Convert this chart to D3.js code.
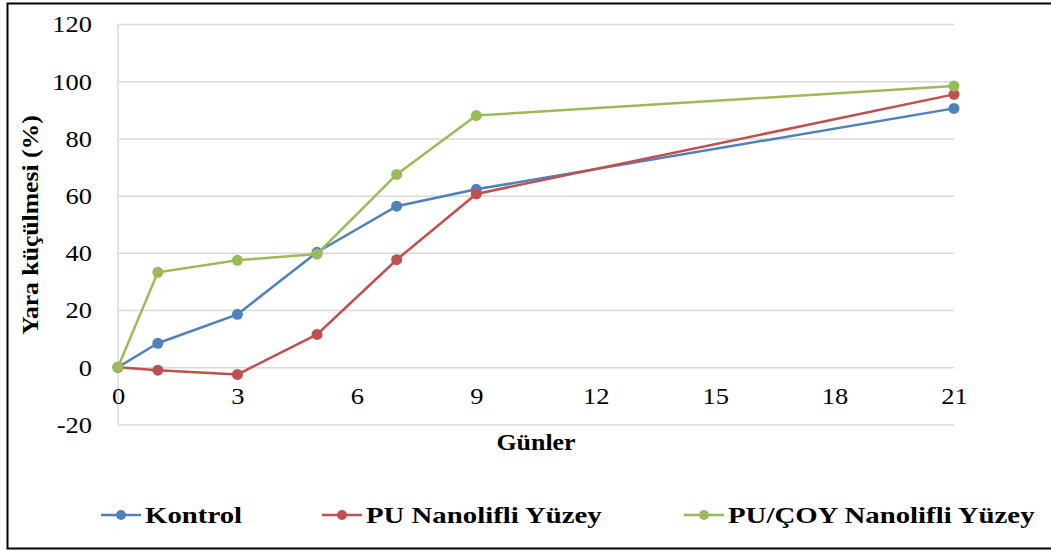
<!DOCTYPE html>
<html>
<head>
<meta charset="utf-8">
<script src="https://cdn.jsdelivr.net/npm/d3@7"></script>
<style>
  html, body { margin: 0; padding: 0; background: #fff; }
  svg { display: block; }
  text { font-family: "Liberation Serif", "Times New Roman", serif; fill: #000; }
</style>
</head>
<body>
<svg id="chart" width="1051" height="551"></svg>
<script>
// Days of observation
const days = [0, 1, 3, 5, 7, 9, 21];

// Wound reduction (%) per group
const kontrol = [0, 8.4, 18.5, 40.2, 56.3, 62.2, 90.5];
const puNanolifli = [0, -1.0, -2.5, 11.5, 37.6, 60.6, 95.4];
const puCoyNanolifli = [0, 33.2, 37.4, 39.6, 67.4, 88.0, 98.3];

const seriesNames = ["Kontrol", "PU Nanolifli Yüzey", "PU/ÇOY Nanolifli Yüzey"];
const seriesColors = ["#4f81bd", "#c0504d", "#9bbb59"];

const xTicks = [0, 3, 6, 9, 12, 15, 18, 21];
const yTicks = [-20, 0, 20, 40, 60, 80, 100, 120];

const xTitle = "Günler";
const yTitle = "Yara küçülmesi (%)";

const series = [kontrol, puNanolifli, puCoyNanolifli].map((vals, i) => ({
  name: seriesNames[i],
  color: seriesColors[i],
  points: days.map((d, j) => ({ day: d, value: vals[j] }))
}));

const svg = d3.select("#chart");
const W = 1051;
const plot = { left: 118, right: 954, top: 24, bottom: 424.5 };
const stretch = 1.15;
const plainNumber = d => String(d);

// outer frame
svg.append("rect")
  .attr("x", 7.5).attr("y", 3.5)
  .attr("width", W + 10).attr("height", 545)
  .attr("fill", "none").attr("stroke", "#000").attr("stroke-width", 2);

const x = d3.scaleLinear().domain([0, 21]).range([plot.left, plot.right]);
const y = d3.scaleLinear().domain([-20, 120]).range([plot.bottom, plot.top]);

// horizontal gridlines + y labels
const yAxis = svg.append("g")
  .attr("transform", `translate(${plot.left},0)`)
  .call(d3.axisLeft(y).tickValues(yTicks).tickSize(-(plot.right - plot.left)).tickPadding(22.6).tickFormat(plainNumber));
yAxis.select(".domain").remove();
yAxis.selectAll(".tick line").attr("stroke", "#d9d9d9").attr("stroke-width", 1.5);
yAxis.selectAll(".tick text")
  .attr("font-size", 23)
  .attr("font-family", "Liberation Serif")
  .attr("dy", "0.34em")
  .attr("transform", `scale(${stretch},1)`);

// vertical axis line at x = 0
svg.append("line")
  .attr("x1", x(0)).attr("x2", x(0))
  .attr("y1", y(120)).attr("y2", y(-20))
  .attr("stroke", "#d9d9d9").attr("stroke-width", 1.5);

// x labels below the zero line
const xAxis = svg.append("g")
  .attr("transform", `translate(0,${y(0)})`)
  .call(d3.axisBottom(x).tickValues(xTicks).tickSize(0).tickPadding(20).tickFormat(plainNumber));
xAxis.select(".domain").remove();
xAxis.selectAll(".tick text")
  .attr("font-size", 23)
  .attr("font-family", "Liberation Serif")
  .attr("transform", `scale(${stretch},1)`);

// axis titles
svg.append("text")
  .attr("transform", `translate(536,450) scale(1.08,1)`)
  .attr("text-anchor", "middle")
  .attr("font-size", 24).attr("font-weight", "bold")
  .text(xTitle);

svg.append("text")
  .attr("transform", `translate(38,225) rotate(-90) scale(1.07,1)`)
  .attr("text-anchor", "middle")
  .attr("font-size", 24).attr("font-weight", "bold")
  .text(yTitle);

// series lines and markers
const line = d3.line().x(d => x(d.day)).y(d => y(d.value));
const g = svg.append("g");
series.forEach(s => {
  g.append("path")
    .datum(s.points)
    .attr("d", line)
    .attr("fill", "none")
    .attr("stroke", s.color)
    .attr("stroke-width", 2.5);
  g.selectAll(null)
    .data(s.points)
    .join("circle")
    .attr("cx", d => x(d.day))
    .attr("cy", d => y(d.value))
    .attr("r", 5.5)
    .attr("fill", s.color);
});

// legend
const legendX = [101, 322, 684];
const legend = svg.append("g");
series.forEach((s, i) => {
  const lg = legend.append("g").attr("transform", `translate(${legendX[i]},515)`);
  lg.append("line").attr("x1", 0).attr("x2", 40).attr("y1", 0).attr("y2", 0)
    .attr("stroke", s.color).attr("stroke-width", 2.5);
  lg.append("circle").attr("cx", 20).attr("cy", 0).attr("r", 5).attr("fill", s.color);
  lg.append("text")
    .attr("transform", `translate(44,8) scale(1.2,1)`)
    .attr("font-size", 24).attr("font-weight", "bold")
    .text(s.name);
});
</script>
</body>
</html>
